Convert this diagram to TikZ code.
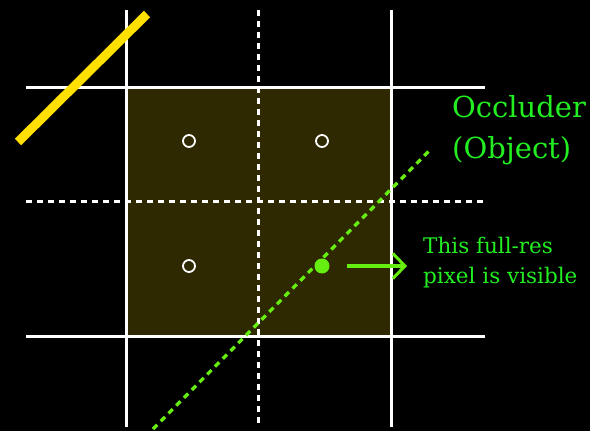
\documentclass[tikz,border=0pt]{standalone}
\usepackage{fontspec}
\setmainfont{DejaVu Serif}
\usetikzlibrary{arrows.meta}
\definecolor{cellfill}{HTML}{2E2900}
\definecolor{raygreen}{HTML}{66EE11}
\definecolor{labelgreen}{HTML}{22EE22}
\definecolor{occyellow}{HTML}{FFE000}
\begin{document}
\begin{tikzpicture}[x=1pt,y=-1pt,
  gridline/.style={white,line width=3pt},
  halfline/.style={white,line width=3pt,dash pattern=on 6pt off 5pt},
  sample/.style={circle,draw=white,line width=1.8pt,minimum size=12pt,inner sep=0pt},
  hit/.style={circle,fill=raygreen,minimum size=15pt,inner sep=0pt},
  note/.style={text=labelgreen,align=left,inner sep=0pt,anchor=base west}]
\fill[black] (0,0) rectangle (590,431);
\useasboundingbox (0,0) rectangle (590,431);
\fill[cellfill] (126,87) rectangle (391,336);
% pixel grid
\draw[gridline] (126,10)--(126,427) (391,10)--(391,427);
\draw[gridline] (26,87)--(485,87) (26,336)--(485,336);
\draw[halfline] (258,10)--(258,427) (26,201)--(485,201);
% half-res samples
\node[sample] (s1) at (189,141) {};
\node[sample] (s2) at (322,141) {};
\node[sample] (s3) at (189,266) {};
\node[hit] (s4) at (322,266) {};
% occluders
\draw[occyellow,line width=9pt] (18,142)--(147,14);
\draw[raygreen,line width=3.3pt,dash pattern=on 6pt off 5pt] (153,429)--(432,148);
\node[note,font=\fontsize{29}{41}\selectfont] (occ) at (452,158) {Occluder\\(Object)};
\node[note,font=\fontsize{21.5}{30}\selectfont] (vis) at (423,283) {This full-res\\pixel is visible};
\coordinate (from) at (347,266);
\coordinate (to) at (407,266);
\draw[raygreen,line width=3.3pt,-{Straight Barb[length=12pt,width=25pt,line width=3pt]}] (from)--(to);
\end{tikzpicture}
\end{document}
